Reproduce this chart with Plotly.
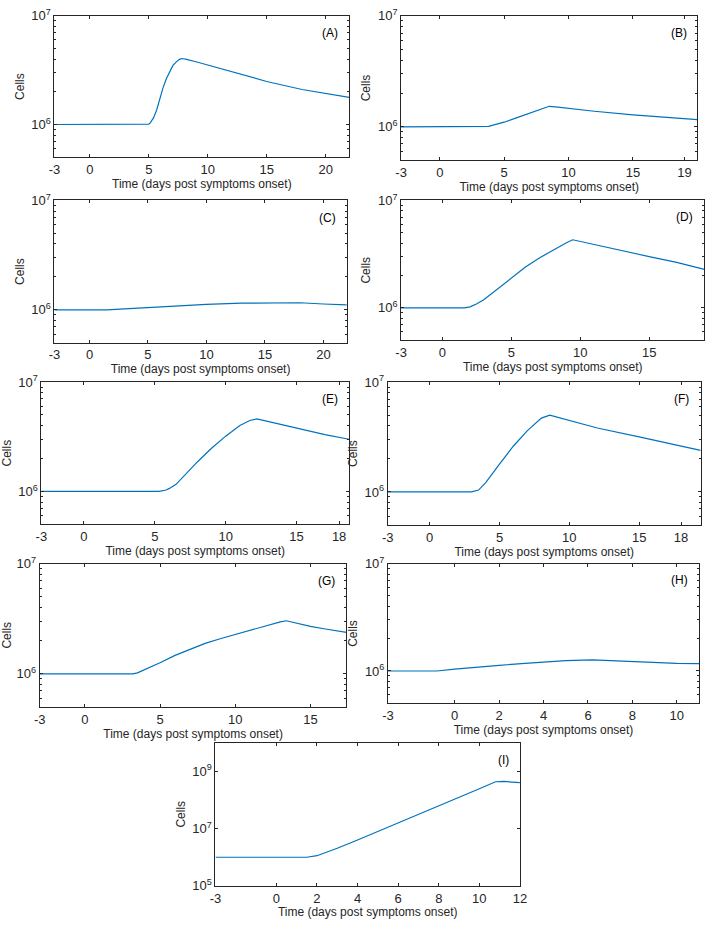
import math
import plotly.graph_objects as go

# ---------------- data ----------------
panel_labels = ["(A)", "(B)", "(C)", "(D)", "(E)", "(F)", "(G)", "(H)", "(I)"]

t_A = [-3, 4.8, 5.0, 5.11, 5.25, 5.4, 5.67, 5.95, 6.22, 6.5, 6.78, 7.05, 7.34, 7.6, 7.8, 8.2, 9, 10, 12, 15, 18, 22]
v_A = [1e6, 1.0e6, 1.01e6, 1.03e6, 1.08e6, 1.15e6, 1.36e6, 1.75e6, 2.2e6, 2.65e6, 3.1e6, 3.5e6, 3.77e6, 3.98e6,
       4.05e6, 3.98e6, 3.78e6, 3.52e6, 3.05e6, 2.49e6, 2.1e6, 1.78e6]

t_B = [-3, 3.5, 3.8, 4.2, 5, 6, 7, 8, 8.5, 9, 10, 12, 15, 18, 20]
v_B = [1e6, 1e6, 1.01e6, 1.04e6, 1.1e6, 1.21e6, 1.33e6, 1.47e6, 1.53e6, 1.51e6, 1.46e6, 1.38e6, 1.28e6, 1.2e6, 1.16e6]

t_C = [-3, 1.5, 3, 5, 7, 10, 13, 15, 16.5, 18, 20, 22]
v_C = [1e6, 1e6, 1.02e6, 1.05e6, 1.08e6, 1.12e6, 1.15e6, 1.16e6, 1.17e6, 1.16e6, 1.13e6, 1.11e6]

t_D = [-3, 1.6, 2, 2.5, 3, 4, 5, 6, 7, 8, 9, 9.45, 10, 12, 15, 17, 19]
v_D = [1e6, 1e6, 1.02e6, 1.09e6, 1.19e6, 1.5e6, 1.92e6, 2.38e6, 2.9e6, 3.45e6, 4.03e6, 4.3e6, 4.15e6,
       3.6e6, 3.0e6, 2.65e6, 2.28e6]

t_E = [-3, 5.3, 5.8, 6, 6.5, 7, 8, 9, 10, 11, 11.7, 12.2, 13, 15, 17, 18.7]
v_E = [1e6, 1e6, 1.03e6, 1.06e6, 1.16e6, 1.36e6, 1.86e6, 2.48e6, 3.2e6, 4.0e6, 4.45e6, 4.6e6, 4.35e6,
       3.74e6, 3.3e6, 3.0e6]

t_F = [-3, 3.0, 3.5, 4, 5, 6, 7, 8, 8.6, 9, 10, 12, 15, 17, 19.4]
v_F = [1e6, 1e6, 1.04e6, 1.21e6, 1.79e6, 2.62e6, 3.61e6, 4.7e6, 5.0e6, 4.85e6, 4.45e6, 3.82e6, 3.17e6, 2.8e6, 2.39e6]

t_G = [-3, 3.2, 3.5, 4, 5, 6, 7, 8, 9, 10, 11, 12, 13, 13.4, 14, 15, 16, 17.4]
v_G = [1e6, 1e6, 1.02e6, 1.09e6, 1.26e6, 1.47e6, 1.68e6, 1.89e6, 2.08e6, 2.28e6, 2.5e6, 2.73e6, 2.96e6, 3.03e6,
       2.9e6, 2.69e6, 2.55e6, 2.38e6]

t_H = [-3, -0.8, 0, 1, 2, 3, 4, 5, 6.2, 7, 8, 9, 10, 11]
v_H = [1e6, 1e6, 1.04e6, 1.09e6, 1.13e6, 1.17e6, 1.21e6, 1.25e6, 1.27e6, 1.25e6, 1.22e6, 1.2e6, 1.18e6, 1.17e6]

t_I = [-3, 1.5, 2, 2.5, 3, 4, 6, 8, 10, 10.8, 11.2, 12]
v_I = [1e6, 1e6, 1.13e6, 1.5e6, 2.06e6, 4.0e6, 1.55e7, 6.3e7, 2.45e8, 4.3e8, 4.4e8, 4.0e8]

x_ranges = [[-3, 22], [-3, 20], [-3, 22], [-3, 19], [-3, 18.7], [-3, 19.4], [-3, 17.4], [-3, 11], [-3, 12]]
x_ticks = [[-3, 0, 5, 10, 15, 20], [-3, 0, 5, 10, 15, 19], [-3, 0, 5, 10, 15, 20], [-3, 0, 5, 10, 15],
           [-3, 0, 5, 10, 15, 18], [-3, 0, 5, 10, 15, 18], [-3, 0, 5, 10, 15],
           [-3, 0, 2, 4, 6, 8, 10], [-3, 0, 2, 4, 6, 8, 10, 12]]
y_ticks_small = [1e6, 1e7]
y_ticks_big = [1e5, 1e7, 1e9]

series = [(t_A, v_A), (t_B, v_B), (t_C, v_C), (t_D, v_D), (t_E, v_E),
          (t_F, v_F), (t_G, v_G), (t_H, v_H), (t_I, v_I)]

# ---------------- layout (pixel boxes) ----------------
W, H = 726, 926
boxes = [  # left, right, top, bottom in px
    (49.3, 349.5, 7, 151),
    (402.3, 704, 7, 154),
    (49.3, 347, 195, 340),
    (402.3, 711, 195, 337.3),
    (36, 349.3, 380, 525),
    (388.7, 707.3, 380, 525.7),
    (34.3, 346.7, 565, 711),
    (389, 705.7, 565, 707.3),
    (213.3, 523.3, 747.3, 893.3),
]

AX = "#262626"
font = dict(family="Liberation Sans, Arial, sans-serif", size=12, color=AX)

fig = go.Figure()
layout = dict(width=W, height=H, margin=dict(l=0, r=0, t=0, b=0),
              paper_bgcolor="white", plot_bgcolor="white", font=font, showlegend=False)
annotations = []

minor_vals = [m * 10 ** e for e in (5, 6) for m in range(2, 10)]

for i, ((t, v), (l, r, tp, bt)) in enumerate(zip(series, boxes)):
    n = i + 1
    xa = "xaxis" if n == 1 else f"xaxis{n}"
    ya = "yaxis" if n == 1 else f"yaxis{n}"
    xr = "x" if n == 1 else f"x{n}"
    yr = "y" if n == 1 else f"y{n}"
    fig.add_trace(go.Scatter(x=t, y=v, mode="lines", xaxis=xr, yaxis=yr,
                             line=dict(color="#0072BD", width=1.2),
                             hoverinfo="skip"))
    layout[xa] = dict(domain=[l / W, r / W], anchor=yr, range=x_ranges[i],
                      tickvals=x_ticks[i], ticktext=[str(k) for k in x_ticks[i]],
                      ticks="inside", ticklen=3, tickcolor=AX, showline=True, linecolor=AX,
                      linewidth=1, mirror="ticks", showgrid=False, zeroline=False,
                      tickfont=dict(size=13, color=AX),
                      title=dict(text="Time (days post symptoms onset)", font=dict(size=12, color=AX),
                                 standoff=0))
    if n == 9:
        yvals = y_ticks_big
        yrange = [5, 10]
        minor = None
    else:
        yvals = y_ticks_small
        yrange = [5.699, 7]
        minor = dict(ticks="inside", ticklen=2, tickcolor=AX, tickvals=minor_vals)
    yax = dict(domain=[1 - bt / H, 1 - tp / H], anchor=xr, type="log", range=yrange,
               tickvals=yvals,
               ticktext=["10<sup>%d</sup>" % round(math.log10(k)) for k in yvals],
               ticks="inside", ticklen=3, tickcolor=AX, showline=True, linecolor=AX,
               linewidth=1, mirror="ticks", showgrid=False, zeroline=False,
               tickfont=dict(size=13, color=AX),
               title=dict(text="Cells", font=dict(size=12, color=AX), standoff=4))
    if minor:
        yax["minor"] = minor
    layout[ya] = yax
    annotations.append(dict(text=panel_labels[i], xref=f"{xr} domain", yref=f"{yr} domain",
                            x=0.97, y=0.88, xanchor="right", yanchor="middle",
                            showarrow=False, font=dict(size=12, color="black")))

layout["annotations"] = annotations
fig.update_layout(**layout)
fig.write_html("out.html", config={"displayModeBar": False},
               post_script="document.body.style.margin='0';document.body.style.overflow='hidden';")
